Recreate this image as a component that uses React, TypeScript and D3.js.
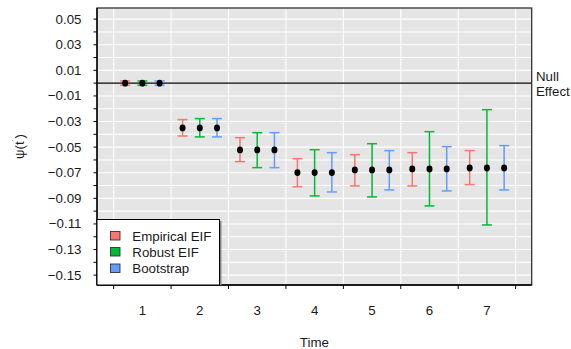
import { useEffect, useRef } from "react";
import * as d3 from "d3";

// Données
const times = [1, 2, 3, 4, 5, 6, 7];
const estimates = [0.0, -0.035, -0.0522, -0.0699, -0.0678, -0.067, -0.0663];

const methods = ["Empirical EIF", "Robust EIF", "Bootstrap"];
const methodColors = ["#F8766D", "#00BA38", "#619CFF"];

const empiricalLower = [-0.0017, -0.0413, -0.0613, -0.0809, -0.0803, -0.0803, -0.0793];
const empiricalUpper = [0.0017, -0.0285, -0.0426, -0.059, -0.0559, -0.0543, -0.0527];
const robustLower = [-0.0017, -0.042, -0.066, -0.0881, -0.0889, -0.0959, -0.1108];
const robustUpper = [0.0017, -0.0277, -0.0387, -0.052, -0.0473, -0.0379, -0.0207];
const bootLower = [-0.0017, -0.042, -0.066, -0.085, -0.0834, -0.0842, -0.0834];
const bootUpper = [0.0017, -0.0277, -0.0387, -0.0543, -0.0527, -0.0496, -0.0488];

const yTickLabels = [0.05, 0.03, 0.01, -0.01, -0.03, -0.05, -0.07, -0.09, -0.11, -0.13, -0.15];
const yGridValues = d3.range(-15, 6).map((d) => d / 100);
const xBoundaries = [0.5, 1.5, 2.5, 3.5, 4.5, 5.5, 6.5, 7.5];

const lowers = [empiricalLower, robustLower, bootLower];
const uppers = [empiricalUpper, robustUpper, bootUpper];
const offsets = [-0.3, 0, 0.3];

const W = 571;
const H = 349;
const FONT = "'Liberation Sans', Arial, Helvetica, sans-serif";

export default function App() {
  const svgRef = useRef<SVGSVGElement>(null);

  useEffect(() => {
    if (!svgRef.current) return;
    const svg = d3.select(svgRef.current);
    svg.selectAll("*").remove();

    const left = 97;
    const right = 531.7;
    const top = 8;
    const bottom = 285;

    const x = d3.scaleLinear().domain([0.21, 7.78]).range([left, right]);
    const y = d3.scaleLinear().domain([-0.1577, 0.0587]).range([bottom, top]);

    // Fond du panneau
    svg
      .append("rect")
      .attr("x", left)
      .attr("y", top)
      .attr("width", right - left)
      .attr("height", bottom - top)
      .attr("fill", "#E5E5E5");

    // Grille
    svg
      .append("g")
      .selectAll("line")
      .data(yGridValues)
      .enter()
      .append("line")
      .attr("x1", left)
      .attr("x2", right)
      .attr("y1", (d) => y(d))
      .attr("y2", (d) => y(d))
      .attr("stroke", "white")
      .attr("stroke-width", 1.1);

    svg
      .append("g")
      .selectAll("line")
      .data(xBoundaries)
      .enter()
      .append("line")
      .attr("x1", (d) => x(d))
      .attr("x2", (d) => x(d))
      .attr("y1", top)
      .attr("y2", bottom)
      .attr("stroke", "white")
      .attr("stroke-width", 1.1);

    // Ligne d'effet nul
    svg
      .append("line")
      .attr("x1", left)
      .attr("x2", right)
      .attr("y1", y(0))
      .attr("y2", y(0))
      .attr("stroke", "black")
      .attr("stroke-width", 1.4);

    // Barres d'erreur
    methods.forEach((m, mi) => {
      const g = svg.append("g").attr("stroke", methodColors[mi]).attr("stroke-width", 1.5);
      times.forEach((t, i) => {
        const cx = x(t + offsets[mi]);
        const y1 = y(uppers[mi][i]);
        const y2 = y(lowers[mi][i]);
        g.append("line").attr("x1", cx).attr("x2", cx).attr("y1", y1).attr("y2", y2);
        g.append("line").attr("x1", cx - 5).attr("x2", cx + 5).attr("y1", y1).attr("y2", y1);
        g.append("line").attr("x1", cx - 5).attr("x2", cx + 5).attr("y1", y2).attr("y2", y2);
      });
    });

    // Points
    methods.forEach((_m, mi) => {
      svg
        .append("g")
        .selectAll("ellipse")
        .data(times)
        .enter()
        .append("ellipse")
        .attr("cx", (t) => x(t + offsets[mi]))
        .attr("cy", (_t, i) => y(estimates[i]))
        .attr("rx", 3)
        .attr("ry", 3.4)
        .attr("fill", "black");
    });

    // Cadre du panneau
    svg
      .append("rect")
      .attr("x", left)
      .attr("y", top)
      .attr("width", right - left)
      .attr("height", bottom - top)
      .attr("fill", "none")
      .attr("stroke", "#333")
      .attr("stroke-width", 1.3);

    // Axes
    svg
      .append("line")
      .attr("x1", left)
      .attr("x2", left)
      .attr("y1", top)
      .attr("y2", bottom)
      .attr("stroke", "black")
      .attr("stroke-width", 1.3);
    svg
      .append("line")
      .attr("x1", left)
      .attr("x2", right)
      .attr("y1", bottom)
      .attr("y2", bottom)
      .attr("stroke", "black")
      .attr("stroke-width", 1.3);

    // Graduations Y
    svg
      .append("g")
      .selectAll("line")
      .data(yGridValues)
      .enter()
      .append("line")
      .attr("x1", left - 3.5)
      .attr("x2", left)
      .attr("y1", (d) => y(d))
      .attr("y2", (d) => y(d))
      .attr("stroke", "black")
      .attr("stroke-width", 1);

    svg
      .append("g")
      .selectAll("text")
      .data(yTickLabels)
      .enter()
      .append("text")
      .attr("x", 81.5)
      .attr("y", (d) => y(d) + 4.5)
      .attr("text-anchor", "end")
      .style("font-family", FONT)
      .style("font-size", "13.3px")
      .style("fill", "#1a1a1a")
      .text((d) => (d < 0 ? "\u2212" : "") + Math.abs(d).toFixed(2));

    // Graduations X
    svg
      .append("g")
      .selectAll("line")
      .data(xBoundaries)
      .enter()
      .append("line")
      .attr("x1", (d) => x(d))
      .attr("x2", (d) => x(d))
      .attr("y1", bottom)
      .attr("y2", bottom + 4)
      .attr("stroke", "black")
      .attr("stroke-width", 1);

    svg
      .append("g")
      .selectAll("text")
      .data(times)
      .enter()
      .append("text")
      .attr("x", (d) => x(d))
      .attr("y", 315)
      .attr("text-anchor", "middle")
      .style("font-family", FONT)
      .style("font-size", "13.3px")
      .style("fill", "#1a1a1a")
      .text((d) => d);

    // Titres d'axes
    svg
      .append("text")
      .attr("x", (left + right) / 2)
      .attr("y", 347)
      .attr("text-anchor", "middle")
      .style("font-family", FONT)
      .style("font-size", "13.3px")
      .style("fill", "#1a1a1a")
      .text("Time");

    const yl = svg
      .append("text")
      .attr("transform", `translate(24,${(top + bottom) / 2}) rotate(-90)`)
      .attr("text-anchor", "middle")
      .style("font-family", FONT)
      .style("font-size", "13.3px")
      .style("fill", "#1a1a1a");
    yl.append("tspan").text("\u03C8(t");
    yl.append("tspan").attr("dy", -5).style("font-size", "9px").text("\u02D9");
    yl.append("tspan").attr("dy", 5).text(")");

    // Texte "Null Effect"
    const ne = svg
      .append("text")
      .style("font-family", FONT)
      .style("font-size", "13.3px")
      .style("fill", "#1a1a1a");
    ne.append("tspan").attr("x", 536).attr("y", 80.5).text("Null");
    ne.append("tspan").attr("x", 536).attr("y", 95.5).text("Effect");

    // Légende
    const lg = svg.append("g");
    lg.append("rect")
      .attr("x", 220)
      .attr("y", 221)
      .attr("width", 1.5)
      .attr("height", bottom - 221)
      .attr("fill", "#888");
    lg.append("rect")
      .attr("x", left)
      .attr("y", 219.5)
      .attr("width", 219.5 - left)
      .attr("height", bottom - 219.5)
      .attr("fill", "white")
      .attr("stroke", "black")
      .attr("stroke-width", 1);
    const rowsY = [236, 252, 268.5];
    methods.forEach((m, mi) => {
      lg.append("rect")
        .attr("x", 110.5)
        .attr("y", rowsY[mi] - 4.5)
        .attr("width", 9.5)
        .attr("height", 8.5)
        .attr("fill", methodColors[mi])
        .attr("stroke", "#333")
        .attr("stroke-width", 0.9);
      lg.append("text")
        .attr("x", 132.3)
        .attr("y", rowsY[mi] + 4.5)
        .style("font-family", FONT)
        .style("font-size", "13.3px")
        .style("fill", "#1a1a1a")
        .text(m);
    });
  }, []);

  return (
    <svg
      ref={svgRef}
      width={W}
      height={H}
      style={{ position: "absolute", left: 0, top: 0, background: "white" }}
    />
  );
}
